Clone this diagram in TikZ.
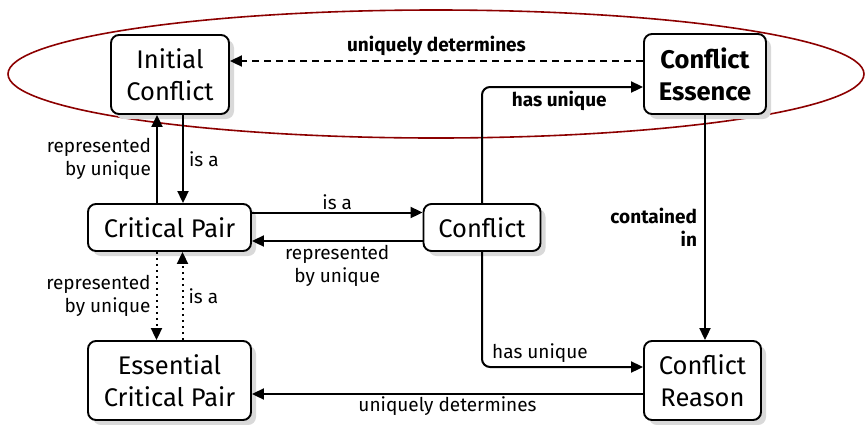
\documentclass[tikz,border=0pt]{standalone}
\usepackage{fontspec}
\setmainfont{Fira Sans}
\usetikzlibrary{arrows.meta,shadows}
\begin{document}
\begin{tikzpicture}[x=1pt,y=-1pt,
  box/.style={draw, line width=1.9pt, rounded corners=8pt, fill=white, align=center,
    inner sep=0pt, font=\fontsize{25.5}{32}\selectfont,
    drop shadow={shadow xshift=5pt, shadow yshift=-5pt, fill=black!15, opacity=1}},
  lbl/.style={font=\fontsize{19}{23}\selectfont, inner sep=5pt},
  blbl/.style={lbl, font=\fontsize{19}{23}\selectfont\bfseries},
  arr/.style={line width=2pt, -{Triangle[length=12pt,width=11pt]}},
  dashedarr/.style={arr, dash pattern=on 7pt off 5pt},
  dottedarr/.style={arr, dash pattern=on 2pt off 4pt},
  ring/.style={draw=red!55!black, line width=1.6pt},
]
\useasboundingbox (0,0) rectangle (865,424);

% grouping ellipse behind the top row
\draw[ring] (436,74) ellipse [x radius=428pt, y radius=64pt];

% concepts
\node[box, minimum width=118pt, minimum height=79pt] (ic) at (170,74.5) {Initial\\Conflict};
\node[box, minimum width=122pt, minimum height=80pt, font=\fontsize{25.5}{32}\selectfont\bfseries] (ce) at (705,74) {Conflict\\Essence};
\node[box, minimum width=163pt, minimum height=47pt] (cp) at (169.5,227.5) {Critical Pair};
\node[box, minimum width=117pt, minimum height=47pt] (c) at (482,227.5) {Conflict};
\node[box, minimum width=163pt, minimum height=79pt] (ecp) at (169.5,380.5) {Essential\\Critical Pair};
\node[box, minimum width=117pt, minimum height=79pt] (cr) at (702.5,380.5) {Conflict\\Reason};

% relations
\draw[dashedarr] ([yshift=13pt]ce.west) -- ([yshift=13pt]ce.west -| ic.east)
  node[blbl, midway, above, inner sep=4pt] {uniquely determines};

\draw[arr] ([xshift=13pt]ic.south) -- ([xshift=13pt]ic.south |- cp.north)
  node[lbl, midway, right] {is a};
\draw[arr] ([xshift=-13pt]ic.south |- cp.north) -- ([xshift=-13pt]ic.south)
  node[lbl, midway, left, align=right] {represented\\by unique};

\draw[arr] ([yshift=15pt]cp.east) -- ([yshift=15pt]cp.east -| c.west)
  node[lbl, midway, above, inner sep=2pt] {is a};
\draw[arr] ([yshift=-13.5pt]c.west) -- ([yshift=-13.5pt]c.west -| cp.east)
  node[lbl, midway, below, align=center, inner sep=3pt] {represented\\by unique};

\draw[dottedarr] ([xshift=-13pt]cp.south) -- ([xshift=-13pt]cp.south |- ecp.north)
  node[lbl, midway, left, align=right] {represented\\by unique};
\draw[dottedarr] ([xshift=13pt]cp.south |- ecp.north) -- ([xshift=13pt]cp.south)
  node[lbl, midway, right] {is a};

\draw[arr, rounded corners=8pt] (c.north) |- ([yshift=-13pt]ce.west)
  node[blbl, pos=0.74, below, inner sep=3pt] {has unique};
\draw[arr, rounded corners=8pt] (c.south) |- ([yshift=13.5pt]cr.west)
  node[lbl, pos=0.68, above, inner sep=3pt] {has unique};

\draw[arr] (ce.south) -- (ce.south |- cr.north)
  node[blbl, midway, left, align=right, inner sep=7pt] {contained\\in};

\draw[arr] ([yshift=-13.5pt]cr.west) -- ([yshift=-13.5pt]cr.west -| ecp.east)
  node[lbl, midway, below, inner sep=2pt] {uniquely determines};
\end{tikzpicture}
\end{document}
